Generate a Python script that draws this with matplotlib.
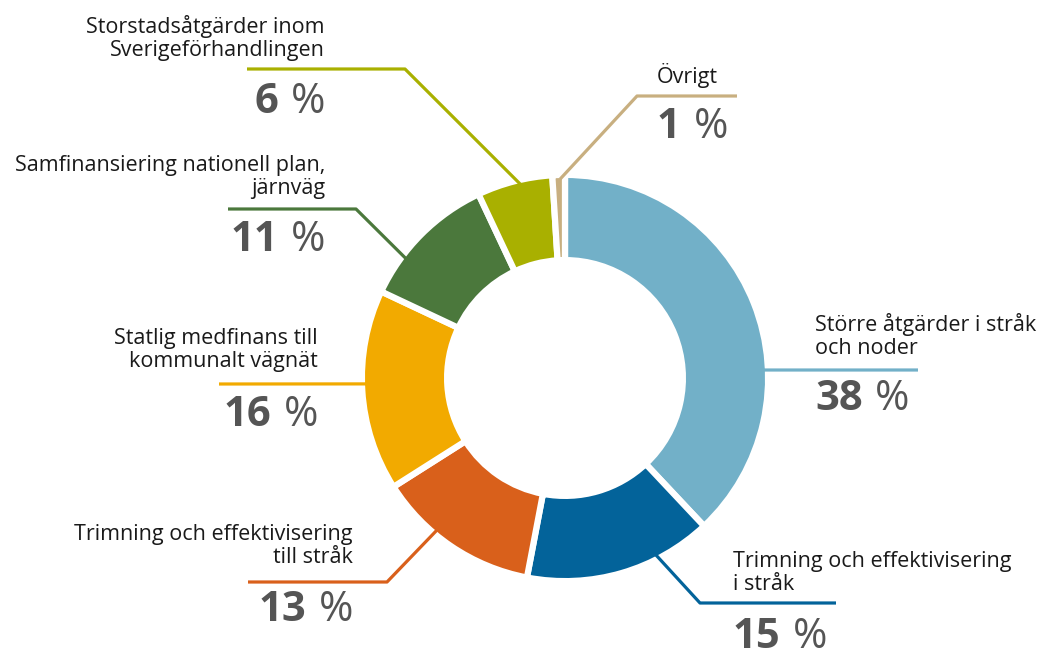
"""Donut chart: fördelning av medel per åtgärdsområde."""

import numpy as np
import matplotlib.pyplot as plt

plt.rcParams['font.family'] = ['Open Sans', 'DejaVu Sans']

# data, clockwise from 12 o'clock
labels = [
    'Större åtgärder i stråk\noch noder',
    'Trimning och effektivisering\ni stråk',
    'Trimning och effektivisering\ntill stråk',
    'Statlig medfinans till\nkommunalt vägnät',
    'Samfinansiering nationell plan,\njärnväg',
    'Storstadsåtgärder inom\nSverigeförhandlingen',
    'Övrigt',
]
shares = [38, 15, 13, 16, 11, 6, 1]
colors = ['#72b0c8', '#03639a', '#d9601b', '#f2aa00',
          '#4b783c', '#a9b000', '#c8af80']

# layout in pixel units (y grows downwards)
CX, CY = 565, 378
R_OUT, R_IN = 200, 121
GAP = 4.5  # pt, white separator

# anchor angle on the ring (deg, ccw from east), leader path, label spot
anchors = [2.3, -62.8, 229.9, 181.7, 143.1, 103.0, 91.4]
paths = [
    [(918, 370)],
    [(700, 603), (836, 603)],
    [(387, 582), (248, 582)],
    [(219, 384)],
    [(356, 209), (228, 209)],
    [(405, 69), (247, 69)],
    [(637, 96), (737, 96)],
]
spots = [  # x, label y, percent y, align
    (815, 336, 400, 'left'),
    (733, 573, 637, 'left'),
    (353, 546, 610, 'right'),
    (318, 350, 415, 'right'),
    (325, 177, 240, 'right'),
    (325, 38, 102, 'right'),
    (657, 75, 127, 'left'),
]

fig = plt.figure(figsize=(10.42, 6.55), dpi=100)
ax = fig.add_axes([0, 0, 1, 1])

sep_px = GAP * 100 / 72
ax.pie(shares, colors=colors, center=(CX, CY), radius=R_OUT + sep_px / 2,
       startangle=-90, counterclock=True,
       wedgeprops=dict(width=R_OUT - R_IN + sep_px, edgecolor='white',
                       linewidth=GAP))

for ang, path, col in zip(anchors, paths, colors):
    a = np.deg2rad(ang)
    x0 = CX + (R_OUT - 1) * np.cos(a)
    y0 = CY - (R_OUT - 1) * np.sin(a)
    xs = [x0] + [p[0] for p in path]
    ys = [y0] + [p[1] for p in path]
    ax.plot(xs, ys, color=col, lw=2.3, solid_capstyle='butt', zorder=5)

PCT_SIZE = 30
for lab, share, (x, ly, py, ha) in zip(labels, shares, spots):
    ax.text(x, ly, lab, ha=ha, va='center', ma=ha, fontsize=15.5,
            color='#1a1a1a', linespacing=1.1)
    if ha == 'left':
        num = ax.text(x, py, f'{share}', ha='left', va='center',
                      fontsize=PCT_SIZE, fontweight='bold', color='#555555')
        ax.annotate('%', xy=(1, 0), xycoords=num, xytext=(9, 0),
                    textcoords='offset points', ha='left', va='bottom',
                    fontsize=PCT_SIZE, color='#555555')
    else:
        pct = ax.text(x, py, '%', ha='right', va='center',
                      fontsize=PCT_SIZE, color='#555555')
        ax.annotate(f'{share}', xy=(0, 0), xycoords=pct, xytext=(-9, 0),
                    textcoords='offset points', ha='right', va='bottom',
                    fontsize=PCT_SIZE, fontweight='bold', color='#555555')

ax.set_xlim(0, 1042)
ax.set_ylim(655, 0)
ax.set_aspect('auto')
ax.axis('off')

fig.savefig('out.png', dpi=100, facecolor='white')
